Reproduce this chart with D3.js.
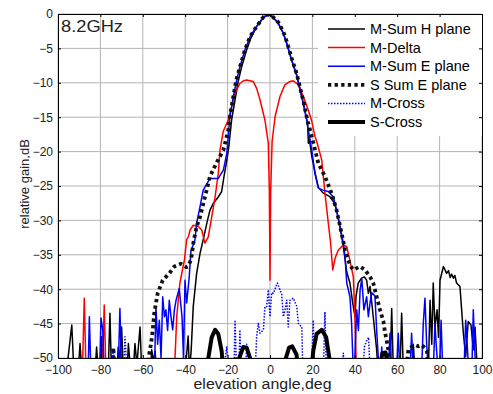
<!DOCTYPE html>
<html>
<head>
<meta charset="utf-8">
<script src="https://cdn.jsdelivr.net/npm/d3@7"></script>
<style>
  html, body { margin: 0; padding: 0; background: #fff; }
  svg { display: block; font-family: "Liberation Sans", Arial, sans-serif; }
</style>
</head>
<body>
<div id="chart"></div>
<script>
/* Elevation patterns at 8.2GHz: measured (M) and simulated (S) sum, delta
   and cross-pol cuts. Points are [angle deg, gain dB], read off the plot. */

var xTicks = [-100, -80, -60, -40, -20, 0, 20, 40, 60, 80, 100];
var yTicks = [0, -5, -10, -15, -20, -25, -30, -35, -40, -45, -50];

var mSumH = [
  [-96,-52],[-93.5,-45.2],[-92.5,-52],[-90.5,-52],[-89.6,-47.9],[-88.8,-52],
  [-82.5,-52],[-81.8,-48.4],[-81,-52],[-80,-52],[-79.4,-46.9],[-78.8,-52],
  [-76.3,-52],[-75.5,-43.5],[-74.8,-52],[-72.2,-52],[-71.6,-48.4],[-70.8,-50.5],
  [-70,-45.5],[-69.2,-52],[-67.4,-52],[-66.8,-47.9],[-66,-51],[-64.5,-52],
  [-63.7,-47.9],[-62.8,-51],[-61.3,-45.5],[-60.5,-52],[-56.5,-52],[-55.8,-48.8],
  [-55,-50.5],[-54.2,-49],[-53.5,-52],[-40,-52],[-38.6,-46.8],[-38,-52],
  [-37.2,-49],[-36.2,-42.5],[-34.6,-37.7],[-33,-34.8],[-31.5,-32.8],[-29.5,-30],
  [-28.3,-28.5],[-26.7,-27.5],[-24.4,-26.6],[-22.8,-25.8],[-21.7,-23.6],
  [-20.5,-21.5],[-19.5,-19.5],[-18.1,-15.4],[-16.5,-12.5],[-15,-9.8],
  [-13.4,-7.7],[-11,-5.2],[-9,-3.5],[-6.3,-1.8],[-3,-0.5],[0,0],[3.9,-1.35],
  [6.3,-2.8],[7.9,-4.3],[10.2,-6.7],[12.6,-8.9],[14.2,-11],[15.7,-13],
  [17.3,-15.2],[17.8,-16.4],[18.1,-18.8],[18.6,-18.2],[19.7,-20.7],[21.2,-23],
  [22.8,-25.2],[25,-26],[28,-26.5],[30,-27.3],[31.4,-28.5],[33,-30.9],
  [34.6,-33.8],[36.2,-37.5],[37.7,-39.1],[39,-42],[40.1,-44],[40.6,-41],
  [41.6,-39.1],[43.2,-38.4],[44.5,-38.2],[45.6,-38.7],[46.4,-40.6],[47.2,-39.6],
  [48.7,-44],[50.3,-48.8],[51,-52],[56.6,-52],[57.4,-42.8],[58.2,-52],
  [61.3,-52],[62.1,-43.5],[62.9,-52],[66.8,-52],[67.6,-48],[68.4,-52],
  [74.7,-52],[75.5,-41.6],[76.3,-48],[77,-39.1],[77.8,-45.5],[78.8,-43],
  [79.5,-47],[80.2,-38.7],[81.8,-36.7],[83.3,-37.7],[84.2,-37.3],[85,-38.3],
  [85.7,-37.8],[86.5,-38.4],[87.2,-38],[88,-39.1],[89.6,-39.6],[91.2,-46.4],
  [92.3,-49.8],[93.5,-44.7],[94.8,-45.2],[95.9,-48.8],[96.7,-45.5],[97.5,-50],
  [98.2,-52]
];

var mDelta = [
  [-88.5,-52],[-87.6,-41.3],[-86.8,-52],[-79,-52],[-78.2,-42.3],[-77.4,-52],
  [-45.3,-52],[-44.8,-50],[-44,-44],[-42.5,-39.1],[-41.5,-37.5],[-40.4,-35.8],
  [-39.3,-32.8],[-38.5,-32.4],[-37.7,-31.4],[-36.2,-30.7],[-33.8,-30.9],
  [-32.2,-31.4],[-30.7,-33.3],[-29.1,-32.4],[-27.5,-29.5],[-25.9,-26.6],
  [-24.4,-23.2],[-23.6,-19.8],[-22,-17],[-19.7,-15.4],[-18.1,-13.5],
  [-16.5,-11.5],[-14.2,-10.1],[-12.5,-9.7],[-11,-9.6],[-9.5,-9.7],[-7.9,-9.8],
  [-6.3,-10.8],[-4.7,-12.5],[-2.4,-15.4],[-0.8,-18.8],[-0.3,-26],[0,-38.7],
  [0.3,-26],[1,-18.5],[2.4,-14.9],[4.7,-12],[7,-10.3],[9.4,-9.8],[11,-9.7],
  [13.4,-10.3],[15.7,-12],[18.1,-14],[19.7,-15.6],[21.2,-17.8],[22,-18.5],
  [24.4,-21.2],[25.9,-26],[27.5,-30.4],[28.5,-33],[29.6,-37.2],[30.7,-35.5],
  [32.2,-34.3],[34.6,-33.6],[36.2,-33.8],[37.7,-35.8],[39.3,-38.2],[40.1,-44.5],
  [40.6,-50],[41,-52]
];

var mSumE = [
  [-85.8,-52],[-85.2,-44],[-84.5,-52],[-80.4,-52],[-79.7,-44.2],[-78.9,-45.9],
  [-78.2,-52],[-71.6,-52],[-70.8,-42.8],[-70,-52],[-54.5,-52],[-53.8,-42.5],
  [-53,-48],[-52.2,-44.5],[-51.4,-50],[-50.6,-41.1],[-49.8,-44],[-49.1,-43],
  [-48.3,-46],[-47.5,-41.6],[-46.7,-44],[-45.9,-45.9],[-45.1,-43],[-44.3,-41.6],
  [-42.8,-39.9],[-41.5,-44],[-40.8,-50],[-40.1,-38.7],[-39.3,-42],[-38.1,-38.2],
  [-37.3,-34.5],[-35.4,-32.8],[-34.6,-30.4],[-33,-28],[-31.5,-25.6],
  [-28.3,-23.9],[-24.4,-23.9],[-22,-22.7],[-20.4,-20.3],[-19.7,-17.8],
  [-18.9,-14.9],[-17.3,-12],[-15.7,-9.6],[-14.2,-7.7],[-11.8,-5.2],[-9.4,-3.3],
  [-6.3,-1.8],[-3,-0.4],[0,0],[3.9,-1.35],[6.3,-2.8],[7.9,-4.3],[10.2,-6.7],
  [12.6,-8.9],[14.2,-11],[15.7,-13],[17.3,-15.4],[18.1,-16.9],[19.7,-19.8],
  [21.2,-23.2],[22.8,-25.3],[25,-25.6],[27.5,-25.8],[29.9,-26.6],[31.4,-28.5],
  [33,-30.9],[34.6,-33.3],[35.4,-35.3],[36.2,-39.1],[37.7,-41.1],[38.5,-45],
  [39.3,-52],[39.8,-52],[40.9,-43],[41.7,-46],[42.5,-40.1],[43.3,-38.5],
  [44.3,-43],[45.6,-41.1],[46.4,-44],[47.2,-42],[47.9,-40.5],[49.5,-41],
  [50.3,-45.9],[51.1,-50],[51.8,-52],[52.3,-52],[52.7,-48.4],[53.2,-52],
  [55.8,-52],[56.6,-46.4],[57.4,-52],[59.7,-52],[60.5,-46.4],[61.3,-52],
  [66,-52],[66.8,-46.4],[67.6,-52],[71.5,-52],[72.3,-45],[73.1,-41.3],
  [73.9,-48],[74.7,-52],[77,-52],[77.8,-45],[78.6,-49],[79.4,-52],[80,-52],
  [80.7,-44.5],[81.5,-52],[91.5,-52],[92.3,-44.5],[93,-48],[93.8,-52],
  [95.2,-52],[95.9,-43],[96.5,-48],[97,-52]
];

var sSumE = [
  [-74.5,-52],[-73.9,-48.5],[-73.3,-52],[-57.5,-52],[-56.9,-49.3],[-56.1,-47.9],
  [-55.3,-45.9],[-54.6,-43.5],[-53,-40.6],[-50.6,-38.7],[-47.5,-37.7],
  [-45.1,-36.7],[-42,-36.3],[-39.5,-36.8],[-38.8,-36.7],[-37.3,-35.8],
  [-36,-33],[-34.6,-30.9],[-33,-29.5],[-30.7,-26.6],[-28.3,-23.6],[-25,-21.5],
  [-22,-19.8],[-19.7,-16.9],[-18.9,-14.9],[-17.3,-12],[-15.9,-9.6],
  [-14.2,-7.7],[-11.8,-5.2],[-9.4,-3.3],[-6.3,-1.8],[-3,-0.4],[0,0],
  [3.9,-1.2],[6.3,-2.6],[7.9,-4],[10.2,-6.4],[12.6,-8.7],[14.2,-10.7],
  [16,-13],[17.6,-15.4],[19.7,-17.8],[22.8,-21.7],[25.9,-23.6],[29.1,-26.1],
  [31.4,-28.5],[33.8,-31.9],[35.4,-34.3],[37.7,-36.5],[39.3,-37.2],
  [42.5,-36.7],[44.8,-37.2],[47.2,-38.2],[48.7,-39.1],[50.3,-41.1],
  [51.9,-43],[53.5,-44.7],[54.2,-46.2],[55,-47.4],[55.8,-48.8],[56.5,-52],
  [64,-52],[65.3,-48.8],[66.8,-48.4],[68.4,-48.1],[70,-48.3],[71.5,-48.1],
  [73,-48.5],[74,-49],[75,-52]
];

var mCross = [
  [-75,-52],[-73.9,-48.8],[-73,-52],[-69,-52],[-68.4,-46.9],[-67.5,-52],
  [-22,-52],[-20.4,-48.4],[-19.5,-52],[-17,-52],[-16.5,-44.5],[-15.8,-52],
  [-14.7,-52],[-14.2,-45.9],[-13.6,-52],[-11.5,-52],[-11,-48],[-10.4,-52],
  [-7,-52],[-6.3,-46.9],[-5.5,-45],[-4.7,-46.4],[-3.1,-45.9],[-2.4,-42.5],
  [-1.6,-42.5],[-0.8,-40.1],[0,-44],[0.8,-40.5],[1.6,-40.6],[3.1,-39.4],
  [3.5,-39.1],[4.7,-40.1],[5.5,-40.6],[6.3,-44],[7.1,-43],[7.9,-41.6],
  [8.6,-45.5],[9.4,-41.6],[11,-41.3],[12.6,-42.5],[13.4,-45],[15,-45.5],
  [15.5,-52],[19.5,-52],[20.4,-44.5],[21,-52],[25.2,-52],[25.9,-43.3],
  [26.6,-52],[34,-52],[34.6,-49.3],[35.2,-52],[44,-52],[44.5,-48.4],
  [45.6,-47.5],[46.5,-47],[47.2,-52]
];

var sCross = [
  [-30,-52],[-29.1,-50],[-27.5,-47],[-25.9,-45.9],[-24.4,-46.5],[-22.8,-49],
  [-22,-52],[-15.5,-52],[-14.5,-50],[-12.6,-48.4],[-11,-48.5],[-9.4,-50],
  [-8.5,-52],[6.5,-52],[7.5,-50],[9,-48.5],[10.5,-48.3],[12.5,-49.5],
  [13.5,-52],[19.5,-52],[20.4,-49],[22,-46.5],[24.4,-45.9],[26.5,-47],
  [28,-50],[29,-52],[51.5,-52],[53,-49.3],[54.5,-49.2],[56,-52]
];

var seriesNames = ['M-Sum H plane', 'M-Delta', 'M-Sum E plane', 'S Sum E plane', 'M-Cross', 'S-Cross'];
var seriesData = [mSumH, mDelta, mSumE, sSumE, mCross, sCross];

(function () {
  'use strict';

  var W = 493, H = 394;
  var left = 58, right = 482, top = 14, bottom = 358;

  var styles = [
    { color: '#000', width: 1.5, dash: null },
    { color: '#f00', width: 1.5, dash: null },
    { color: '#00f', width: 1.5, dash: null },
    { color: '#111', width: 3.8, dash: '3.3,3.3' },
    { color: '#00f', width: 1.5, dash: '1.5,1.5' },
    { color: '#000', width: 4, dash: null }
  ];

  var svg = d3.select('#chart').append('svg')
    .attr('width', W).attr('height', H);

  var x = d3.scaleLinear().domain([-100, 100]).range([left, right]);
  var y = d3.scaleLinear().domain([-50, 0]).range([bottom, top]);

  svg.append('defs').append('clipPath').attr('id', 'plot-clip')
    .append('rect').attr('x', left).attr('y', top)
    .attr('width', right - left).attr('height', bottom - top);

  /* Grid */
  var grid = svg.append('g').attr('stroke', '#b4b4b4').attr('stroke-width', 1);
  xTicks.forEach(function (t) {
    grid.append('line').attr('x1', x(t)).attr('x2', x(t))
      .attr('y1', top).attr('y2', bottom);
  });
  yTicks.forEach(function (t) {
    grid.append('line').attr('x1', left).attr('x2', right)
      .attr('y1', y(t)).attr('y2', y(t));
  });

  /* Curves */
  var line = d3.line()
    .x(function (d) { return x(d[0]); })
    .y(function (d) { return y(d[1]); });

  var plot = svg.append('g').attr('clip-path', 'url(#plot-clip)');
  seriesData.forEach(function (data, i) {
    var s = styles[i];
    plot.append('path').datum(data)
      .attr('d', line)
      .attr('fill', 'none')
      .attr('stroke', s.color)
      .attr('stroke-width', s.width)
      .attr('stroke-linejoin', 'round')
      .attr('stroke-dasharray', s.dash);
  });

  /* Legend (white box, no border) */
  var lg = svg.append('g');
  lg.append('rect').attr('x', 318).attr('y', top)
    .attr('width', right - 318).attr('height', 122).attr('fill', '#fff');
  seriesNames.forEach(function (name, i) {
    var s = styles[i];
    var ly = 29 + i * 18.6;
    lg.append('line').attr('x1', 328).attr('x2', 365)
      .attr('y1', ly).attr('y2', ly)
      .attr('stroke', s.color).attr('stroke-width', s.width)
      .attr('stroke-dasharray', s.dash);
    lg.append('text').attr('x', 370).attr('y', ly + 5)
      .style('font-size', '14.5px').style('fill', '#000').text(name);
  });

  /* Axes: bottom/left labelled, box with inward ticks */
  var xAxis = svg.append('g').attr('transform', 'translate(0,' + bottom + ')')
    .call(d3.axisBottom(x).tickValues(xTicks).tickSize(-3).tickPadding(7));
  var xAxisTop = svg.append('g').attr('transform', 'translate(0,' + top + ')')
    .call(d3.axisTop(x).tickValues(xTicks).tickSize(-3).tickFormat(''));
  var yAxis = svg.append('g').attr('transform', 'translate(' + left + ',0)')
    .call(d3.axisLeft(y).tickValues(yTicks).tickSize(-3).tickPadding(5));
  var yAxisRight = svg.append('g').attr('transform', 'translate(' + right + ',0)')
    .call(d3.axisRight(y).tickValues(yTicks).tickSize(-3).tickFormat(''));

  [xAxis, xAxisTop, yAxis, yAxisRight].forEach(function (g) {
    g.select('.domain').attr('stroke', '#000');
    g.selectAll('.tick line').attr('stroke', '#000');
    g.selectAll('.tick text')
      .style('font-family', '"Liberation Sans", Arial, sans-serif')
      .style('font-size', '12px').style('fill', '#222');
  });

  /* Labels (the source image is slightly stretched horizontally) */
  svg.append('text').attr('x', 61).attr('y', 32)
    .attr('textLength', 62).attr('lengthAdjust', 'spacingAndGlyphs')
    .style('font-size', '17px').style('fill', '#222').text('8.2GHz');

  svg.append('text').attr('x', 193.5).attr('y', 389)
    .attr('textLength', 138).attr('lengthAdjust', 'spacingAndGlyphs')
    .style('font-size', '14px').style('fill', '#222').text('elevation angle,deg');

  svg.append('text')
    .attr('transform', 'translate(29,184) rotate(-90)')
    .attr('text-anchor', 'middle')
    .style('font-size', '13px').style('fill', '#222').text('relative gain,dB');
})();
</script>
</body>
</html>
